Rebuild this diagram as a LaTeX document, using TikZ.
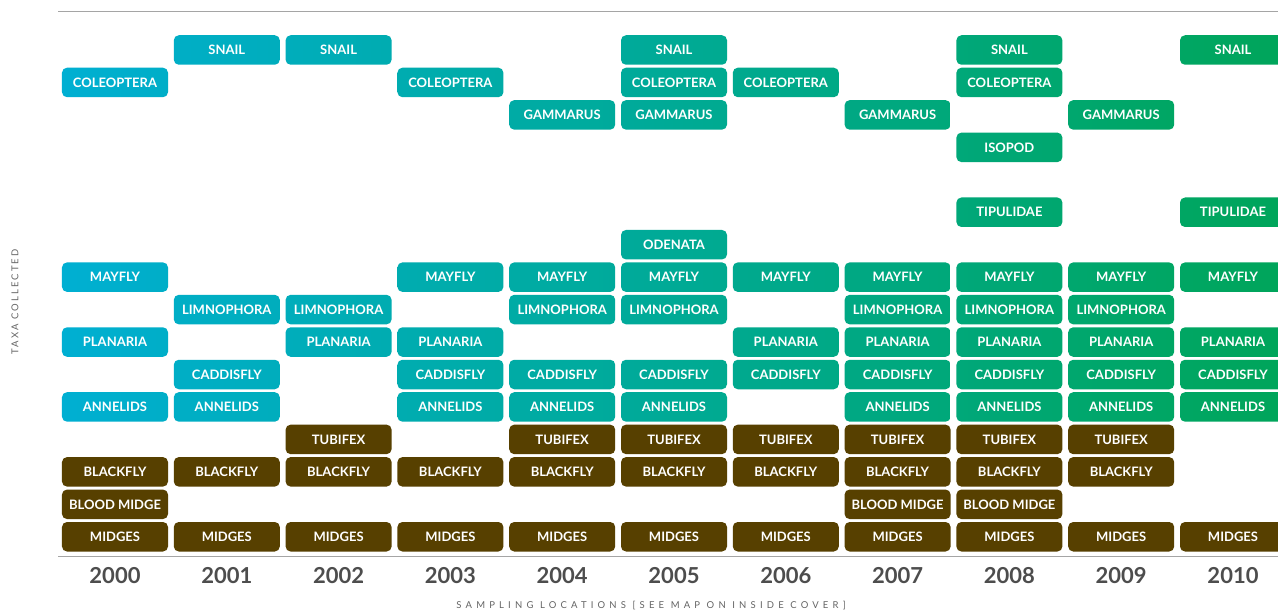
\documentclass[tikz,border=0pt]{standalone}
\usepackage{fontspec}
\setmainfont{Lato}
\definecolor{taxcyan}{RGB}{0,175,210}
\definecolor{taxgreen}{RGB}{0,165,90}
\definecolor{mudbrown}{RGB}{87,64,0}
\definecolor{yeargray}{RGB}{77,77,77}
\definecolor{capgray}{RGB}{100,100,100}
\definecolor{rulegray}{RGB}{165,165,165}
\newcommand\taxon[1]{\ifcase#1 SNAIL\or COLEOPTERA\or GAMMARUS\or ISOPOD\or \or TIPULIDAE\or ODENATA\or MAYFLY\or LIMNOPHORA\or PLANARIA\or CADDISFLY\or ANNELIDS\or TUBIFEX\or BLACKFLY\or BLOOD MIDGE\or MIDGES\fi}
\tikzset{
  taxbox/.style={rectangle, rounded corners=5bp, minimum width=106bp, minimum height=29.5bp,
    inner sep=0pt, text=white, font=\bfseries\fontsize{13bp}{15bp}\selectfont},
  mudbox/.style={taxbox, fill=mudbrown},
  yearlabel/.style={text=yeargray, font=\bfseries\fontsize{22bp}{26bp}\selectfont},
  caption/.style={text=capgray, font=\fontsize{9.5bp}{11bp}\selectfont\addfontfeature{LetterSpace=44}},
  sidecaption/.style={text=capgray, font=\fontsize{9.5bp}{11bp}\selectfont\addfontfeature{LetterSpace=22}},
  rule/.style={draw=rulegray, line width=1.3bp}
}
\begin{document}
\begin{tikzpicture}[x=1bp, y=-1bp]
\clip (0,0) rectangle (1278,613);
\fill[white] (0,0) rectangle (1278,613);
\draw[rule] (58,11.5) -- (1278,11.5);
\draw[rule] (58,556.5) -- (1278,556.5);
% one column per year, rows: 0 snail ... 15 midges
\foreach \i/\rows in {0/{1,7,9,11,13,14,15}, 1/{0,8,10,11,13,15}, 2/{0,8,9,12,13,15},
  3/{1,7,9,10,11,13,15}, 4/{2,7,8,10,11,12,13,15}, 5/{0,1,2,6,7,8,10,11,12,13,15},
  6/{1,7,9,10,12,13,15}, 7/{2,7,8,9,10,11,12,13,14,15}, 8/{0,1,3,5,7,8,9,10,11,12,13,14,15},
  9/{2,7,8,9,10,11,12,13,15}, 10/{0,5,7,9,10,11,15}}{
  \pgfmathsetmacro\xc{115+111.8*\i}
  \pgfmathtruncatemacro\pl{100-9.19*\i}
  \pgfmathtruncatemacro\pr{max(0,100-9.19*\i-8.72)}
  \foreach \k in \rows {
    \ifnum\k>11
      \node[mudbox] (tax-\i-\k) at (\xc,50+32.45*\k) {\taxon{\k}};
    \else
      \node[taxbox, left color=taxcyan!\pl!taxgreen, right color=taxcyan!\pr!taxgreen]
        (tax-\i-\k) at (\xc,50+32.45*\k) {\taxon{\k}};
    \fi
  }
  \pgfmathtruncatemacro\yr{2000+\i}
  \node[yearlabel] (yr-\i) at (\xc,576) {\yr};
}
\node[sidecaption, rotate=90] (taxa) at (15,302) {TAXA COLLECTED};
\node[caption] (sites) at (651,606) {SAMPLING LOCATIONS [SEE MAP ON INSIDE COVER]};
\end{tikzpicture}
\end{document}
